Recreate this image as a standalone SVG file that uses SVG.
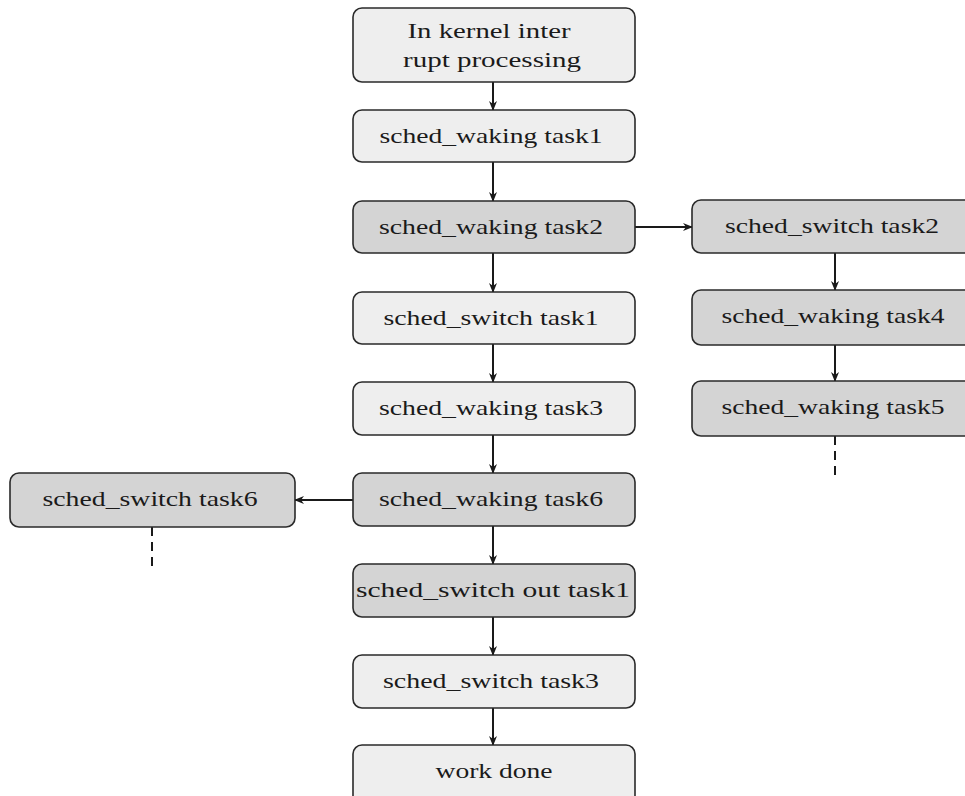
<svg xmlns="http://www.w3.org/2000/svg" width="965" height="796" viewBox="0 0 965 796">
  <style>
    .box { stroke: #2a2a2a; stroke-width: 1.6; }
    .light { fill: #eeeeee; }
    .dark { fill: #d4d4d4; }
    .lbl { font-family: "Liberation Serif", "DejaVu Serif", serif; font-size: 22px; fill: #1a1a1a; text-anchor: middle; }
    .edge { stroke: #1a1a1a; stroke-width: 2; fill: none; }
    .dash { stroke: #1a1a1a; stroke-width: 2; stroke-dasharray: 9 6; fill: none; }
  </style>
  <defs>
    <marker id="arrow" viewBox="0 0 10 10" refX="9" refY="5" markerWidth="10" markerHeight="10" markerUnits="userSpaceOnUse" orient="auto">
      <path d="M0,1 L10,5 L0,9 L3,5 Z" fill="#1a1a1a"/>
    </marker>
  </defs>
  <rect width="965" height="796" fill="#ffffff"/>

  <!-- connectors -->
  <g id="connectors">
    <line class="edge" x1="493" y1="82" x2="493" y2="110" marker-end="url(#arrow)"/>
    <line class="edge" x1="493" y1="162" x2="493" y2="201" marker-end="url(#arrow)"/>
    <line class="edge" x1="493" y1="253" x2="493" y2="292" marker-end="url(#arrow)"/>
    <line class="edge" x1="493" y1="344" x2="493" y2="382" marker-end="url(#arrow)"/>
    <line class="edge" x1="493" y1="435" x2="493" y2="473" marker-end="url(#arrow)"/>
    <line class="edge" x1="493" y1="526" x2="493" y2="564" marker-end="url(#arrow)"/>
    <line class="edge" x1="493" y1="617" x2="493" y2="655" marker-end="url(#arrow)"/>
    <line class="edge" x1="493" y1="708" x2="493" y2="745" marker-end="url(#arrow)"/>
    <line class="edge" x1="635" y1="227" x2="692" y2="227" marker-end="url(#arrow)"/>
    <line class="edge" x1="835" y1="253" x2="835" y2="290" marker-end="url(#arrow)"/>
    <line class="edge" x1="835" y1="345" x2="835" y2="381" marker-end="url(#arrow)"/>
    <line class="edge" x1="353" y1="500" x2="295" y2="500" marker-end="url(#arrow)"/>
    <line class="dash" x1="835" y1="436" x2="835" y2="477"/>
    <line class="dash" x1="152" y1="527" x2="152" y2="567"/>
  </g>

  <!-- main column -->
  <g id="n-interrupt">
    <rect class="box light" x="353" y="8" width="282" height="74" rx="9"/>
    <text class="lbl" x="489" y="38" textLength="163" lengthAdjust="spacingAndGlyphs">In kernel inter</text>
    <text class="lbl" x="492" y="67" textLength="178" lengthAdjust="spacingAndGlyphs">rupt processing</text>
  </g>
  <g id="n-waking-task1">
    <rect class="box light" x="353" y="110" width="282" height="52" rx="9"/>
    <text class="lbl" x="491" y="143" textLength="223" lengthAdjust="spacingAndGlyphs">sched_waking task1</text>
  </g>
  <g id="n-waking-task2">
    <rect class="box dark" x="353" y="201" width="282" height="52" rx="9"/>
    <text class="lbl" x="491" y="234" textLength="224" lengthAdjust="spacingAndGlyphs">sched_waking task2</text>
  </g>
  <g id="n-switch-task1">
    <rect class="box light" x="353" y="292" width="282" height="52" rx="9"/>
    <text class="lbl" x="491" y="325" textLength="215" lengthAdjust="spacingAndGlyphs">sched_switch task1</text>
  </g>
  <g id="n-waking-task3">
    <rect class="box light" x="353" y="382" width="282" height="53" rx="9"/>
    <text class="lbl" x="491" y="415" textLength="224" lengthAdjust="spacingAndGlyphs">sched_waking task3</text>
  </g>
  <g id="n-waking-task6">
    <rect class="box dark" x="353" y="473" width="282" height="53" rx="9"/>
    <text class="lbl" x="491" y="506" textLength="224" lengthAdjust="spacingAndGlyphs">sched_waking task6</text>
  </g>
  <g id="n-switch-out-task1">
    <rect class="box dark" x="353" y="564" width="282" height="53" rx="9"/>
    <text class="lbl" x="493" y="597" textLength="274" lengthAdjust="spacingAndGlyphs">sched_switch out task1</text>
  </g>
  <g id="n-switch-task3">
    <rect class="box light" x="353" y="655" width="282" height="53" rx="9"/>
    <text class="lbl" x="491" y="688" textLength="216" lengthAdjust="spacingAndGlyphs">sched_switch task3</text>
  </g>
  <g id="n-work-done">
    <rect class="box light" x="353" y="745" width="282" height="60" rx="9"/>
    <text class="lbl" x="494" y="778" textLength="117" lengthAdjust="spacingAndGlyphs">work done</text>
  </g>

  <!-- right branch -->
  <g id="n-switch-task2">
    <rect class="box dark" x="692" y="200" width="284" height="53" rx="9"/>
    <text class="lbl" x="832" y="233" textLength="214" lengthAdjust="spacingAndGlyphs">sched_switch task2</text>
  </g>
  <g id="n-waking-task4">
    <rect class="box dark" x="692" y="290" width="284" height="55" rx="9"/>
    <text class="lbl" x="833" y="323" textLength="223" lengthAdjust="spacingAndGlyphs">sched_waking task4</text>
  </g>
  <g id="n-waking-task5">
    <rect class="box dark" x="692" y="381" width="284" height="55" rx="9"/>
    <text class="lbl" x="833" y="414" textLength="223" lengthAdjust="spacingAndGlyphs">sched_waking task5</text>
  </g>

  <!-- left branch -->
  <g id="n-switch-task6">
    <rect class="box dark" x="10" y="473" width="285" height="54" rx="9"/>
    <text class="lbl" x="150" y="506" textLength="215" lengthAdjust="spacingAndGlyphs">sched_switch task6</text>
  </g>
</svg>
